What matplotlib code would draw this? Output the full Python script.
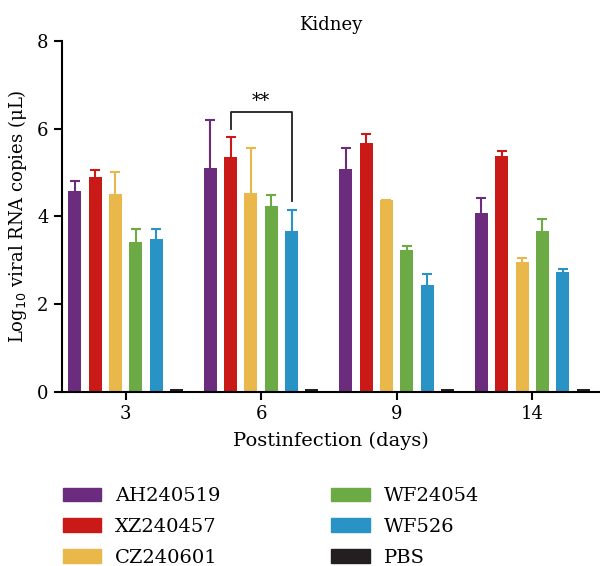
import numpy as np
import matplotlib.pyplot as plt
from matplotlib.patches import Patch

plt.rcParams["font.family"] = ["DejaVu Serif"]

days = ["3", "6", "9", "14"]
strains = ["AH240519", "XZ240457", "CZ240601", "WF24054", "WF526", "PBS"]
colors = ["#6B2C7E", "#C91A17", "#EAB84A", "#6BAA45", "#2A93C5", "#231F20"]

# mean log10 copies per strain, one value per day
means = {
    "AH240519": [4.57, 5.10, 5.08, 4.08],
    "XZ240457": [4.90, 5.35, 5.67, 5.39],
    "CZ240601": [4.52, 4.54, 4.37, 2.96],
    "WF24054":  [3.43, 4.24, 3.24, 3.67],
    "WF526":    [3.49, 3.67, 2.44, 2.73],
    "PBS":      [0.07, 0.07, 0.07, 0.07],
}
# upper error (SD)
errs = {
    "AH240519": [0.24, 1.09, 0.48, 0.35],
    "XZ240457": [0.16, 0.46, 0.21, 0.11],
    "CZ240601": [0.50, 1.03, 0.01, 0.09],
    "WF24054":  [0.29, 0.25, 0.09, 0.27],
    "WF526":    [0.22, 0.48, 0.25, 0.07],
    "PBS":      [0.0, 0.0, 0.0, 0.0],
}

fig = plt.figure(figsize=(6.0, 5.66), dpi=100)
ax = fig.add_axes([0.103, 0.3074, 0.897, 0.6202])

x = np.arange(len(days))
step = 0.15
width = 0.096
for i, s in enumerate(strains):
    pos = x + (i - 2.5) * step
    m = np.array(means[s])
    e = np.array(errs[s])
    ax.bar(pos, m, width, color=colors[i], label=s, zorder=2)
    has = e > 0
    ax.vlines(pos[has], m[has], m[has] + e[has], color=colors[i], lw=1.5, zorder=1)
    ax.plot(pos[has], m[has] + e[has], ls="none", marker="_", ms=7, mew=1.5,
            color=colors[i], zorder=1)

# significance bracket day 6: XZ240457 vs WF526
x1 = x[1] + (1 - 2.5) * step
x2 = x[1] + (4 - 2.5) * step
ax.plot([x1, x1, x2, x2], [6.0, 6.39, 6.39, 4.36], color="#231F20", lw=1.3)
ax.text((x1 + x2) / 2, 6.42, "**", ha="center", va="bottom", fontsize=13)

ax.set_xlim(-0.47, 3.5)
ax.set_ylim(0, 8)
ax.set_yticks([0, 2, 4, 6, 8])
ax.set_xticks(x)
ax.set_xticklabels(days)
ax.spines["top"].set_visible(False)
ax.spines["right"].set_visible(False)
for sp in ["left", "bottom"]:
    ax.spines[sp].set_linewidth(1.5)
ax.tick_params(width=1.5, length=6, labelsize=13)
ax.set_title("Kidney", fontsize=13, pad=8)
ax.set_xlabel("Postinfection (days)", fontsize=14, labelpad=6)
ax.set_ylabel("Log$_{10}$ viral RNA copies (μL)", fontsize=13, labelpad=6)

handles = [Patch(color=c) for c in colors]
fig.legend(handles, strains, ncol=2,
           loc="upper left", bbox_to_anchor=(0.075, 0.17), frameon=False,
           fontsize=14, handlelength=2.0, handleheight=0.72,
           labelspacing=0.66, columnspacing=5.7, handletextpad=0.7)

fig.savefig("out.png", dpi=100)
